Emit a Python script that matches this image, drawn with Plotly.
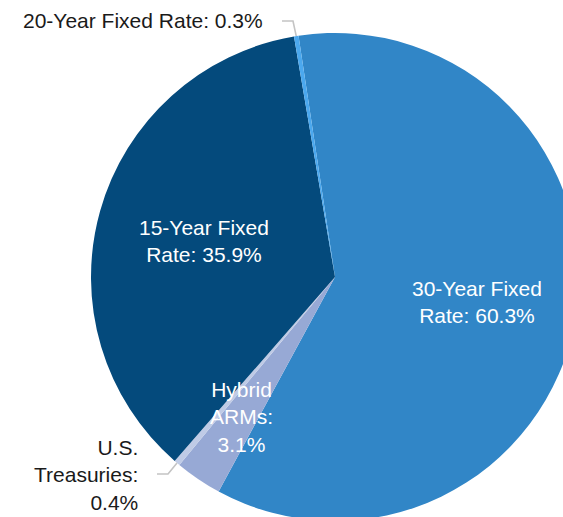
import math
import plotly.graph_objects as go

# ---- data ----
categories = ["30-Year Fixed Rate", "Hybrid ARMs", "U.S. Treasuries", "15-Year Fixed Rate", "20-Year Fixed Rate"]
values = [60.3, 3.1, 0.4, 35.9, 0.3]
label_texts = ["30-Year Fixed<br>Rate: 60.3%", "Hybrid<br>ARMs:<br>3.1%", "U.S.<br>Treasuries:<br>0.4%",
               "15-Year Fixed<br>Rate: 35.9%", "20-Year Fixed Rate: 0.3%"]
colors = ["#3186c7", "#97a9d5", "#bfcbe6", "#044a7c", "#4ba8ee"]

# ---- layout geometry (pixels) ----
W, H = 600, 540
CX, CY, R = 335, 277, 244
ROT = -8.6
FONT = "Liberation Sans, Arial, sans-serif"
FS = 21

def px(x):
    return x / W

def py(y):
    return 1 - y / H

def edge_point(i, rr=R):
    tot = sum(values)
    cum = sum(values[:i])
    ang = math.radians(ROT + 360 * (cum + values[i] / 2) / tot)
    return CX + rr * math.sin(ang), CY - rr * math.cos(ang)

fig = go.Figure(go.Pie(
    labels=categories,
    values=values,
    sort=False,
    direction="clockwise",
    rotation=ROT,
    marker=dict(colors=colors, line=dict(width=0)),
    textinfo="none",
    hoverinfo="label+percent",
    showlegend=False,
    domain=dict(x=[px(CX - R), px(CX + R)], y=[py(CY + R), py(CY - R)]),
))

annots = []
# inside labels (white)
inside = {0: (477, 302), 1: (241, 417), 3: (204, 241)}
for i, (x, y) in inside.items():
    annots.append(dict(x=px(x), y=py(y), xref="paper", yref="paper", text=label_texts[i],
                       showarrow=False, xanchor="center", yanchor="middle", align="center",
                       font=dict(family=FONT, size=FS, color="white")))
# outside labels (black)
annots.append(dict(x=px(21), y=py(21), xref="paper", yref="paper", text=label_texts[4],
                   showarrow=False, xanchor="left", yanchor="middle", align="left",
                   font=dict(family=FONT, size=FS, color="#1a1a1a")))
annots.append(dict(x=px(140), y=py(475), xref="paper", yref="paper", text=label_texts[2],
                   showarrow=False, xanchor="right", yanchor="middle", align="right",
                   font=dict(family=FONT, size=FS, color="#1a1a1a")))

shapes = []
ex, ey = edge_point(4)
shapes.append(dict(type="path", xref="paper", yref="paper",
                   path=f"M {px(282)} {py(21)} L {px(293)} {py(21)} L {px(ex)} {py(ey)}",
                   line=dict(color="#c4c4c4", width=1.6)))
ex, ey = edge_point(2)
shapes.append(dict(type="path", xref="paper", yref="paper",
                   path=f"M {px(157)} {py(474)} L {px(168)} {py(474)} L {px(ex)} {py(ey)}",
                   line=dict(color="#c4c4c4", width=1.6)))

fig.update_layout(width=W, height=H, margin=dict(l=0, r=0, t=0, b=0),
                  paper_bgcolor="white", plot_bgcolor="white",
                  annotations=annots, shapes=shapes)

fig.write_html("out.html", config={"displayModeBar": False},
               post_script="document.body.style.margin='0px';document.body.style.overflow='hidden';")
